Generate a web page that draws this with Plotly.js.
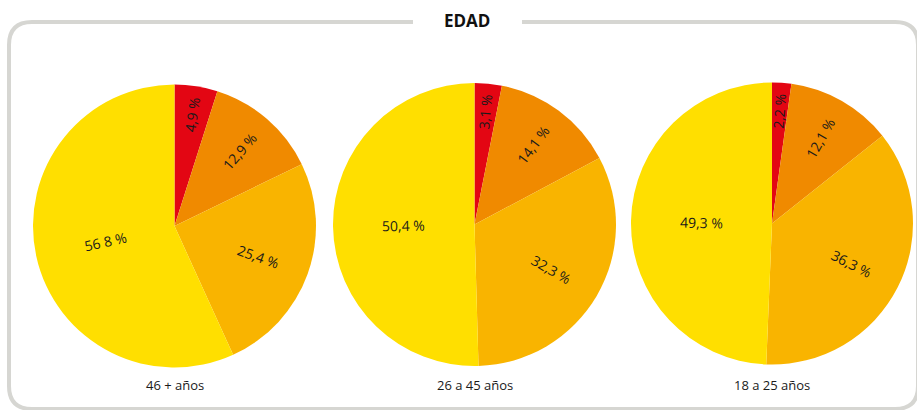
<!DOCTYPE html>
<html>
<head>
<meta charset="utf-8">
<script src="https://cdn.plot.ly/plotly-3.0.1.min.js"></script>
<style>
html,body{margin:0;padding:0;background:#fff;}
#chart{width:917px;height:410px;}
</style>
</head>
<body>
<div id="chart"></div>
<script>
// Data
var chartTitle = "EDAD";
var groups = ["46 + años", "26 a 45 años", "18 a 25 años"];
var segments = ["s1", "s2", "s3", "s4"];
var values46 = [4.9, 12.9, 25.4, 56.8];
var values26 = [3.1, 14.1, 32.3, 50.4];
var values18 = [2.2, 12.1, 36.3, 49.3];
var labels46 = ["4,9 %", "12,9 %", "25,4 %", "56 8 %"];
var labels26 = ["3,1 %", "14,1 %", "32,3 %", "50,4 %"];
var labels18 = ["2,2 %", "12,1 %", "36,3 %", "49,3 %"];

var colors = ["#E30613", "#F08A00", "#F9B400", "#FFDF00"];
var W = 917, H = 410;
var FONT = "Open Sans, Lato, sans-serif";

// pixel boxes for pies [x0,x1,y0,y1] (top-based)
var boxes = [[33, 316, 84.5, 367.5], [333, 616, 83, 366], [631, 913, 82.5, 364.5]];
var allValues = [values46, values26, values18];
var allLabels = [labels46, labels26, labels18];

var traces = allValues.map(function (vals, i) {
  var b = boxes[i];
  return {
    type: "pie",
    values: vals,
    labels: segments,
    textinfo: "none",
    sort: false,
    direction: "clockwise",
    rotation: 0,
    marker: {colors: colors, line: {width: 0}},
    showlegend: false,
    hoverinfo: "none",
    domain: {x: [b[0] / W, b[1] / W], y: [1 - b[3] / H, 1 - b[2] / H]}
  };
});

// radial label placement (style rule by slice size)
function labelRadius(share) {
  if (share > 0.45) return 0.5;
  if (share > 0.2) return 0.63;
  if (share > 0.08) return 0.7;
  return 0.8;
}

var annotations = [];
allValues.forEach(function (vals, i) {
  var b = boxes[i];
  var cx = (b[0] + b[1]) / 2, cy = (b[2] + b[3]) / 2, r = (b[1] - b[0]) / 2;
  var total = vals.reduce(function (a, v) { return a + v; }, 0);
  var cum = 0;
  vals.forEach(function (v, j) {
    var share = v / total;
    var mid = (cum + share / 2) * 360;
    cum += share;
    var rad = mid * Math.PI / 180;
    var f = labelRadius(share);
    var ang = mid - 90;
    if (ang > 90) ang -= 180;
    annotations.push({
      text: allLabels[i][j], xref: "x", yref: "y",
      x: cx + f * r * Math.sin(rad), y: cy - f * r * Math.cos(rad),
      textangle: ang, showarrow: false, xanchor: "center", yanchor: "middle",
      font: {family: FONT, size: 14, color: "#1a1a1a"}
    });
  });
  annotations.push({
    text: groups[i], xref: "x", yref: "y", x: cx, y: 385,
    showarrow: false, xanchor: "center", yanchor: "middle",
    font: {family: FONT, size: 13, color: "#1a1a1a"}
  });
});
annotations.push({
  text: "<b>" + chartTitle + "</b>", xref: "x", yref: "y", x: 467, y: 20,
  showarrow: false, xanchor: "center", yanchor: "middle",
  font: {family: FONT, size: 17, color: "#111"}
});

var framePath = "M 413,22 L 32,22 Q 9,22 9,45 L 9,386 Q 9,409 32,409 L 895,409 Q 918,409 918,386 L 918,45 Q 918,22 895,22 L 522,22";

var layout = {
  width: W, height: H,
  margin: {l: 0, r: 0, t: 0, b: 0},
  paper_bgcolor: "#fff", plot_bgcolor: "rgba(0,0,0,0)",
  xaxis: {range: [0, W], visible: false, fixedrange: true},
  yaxis: {range: [H, 0], visible: false, fixedrange: true},
  shapes: [{type: "path", xref: "x", yref: "y", path: framePath,
            line: {color: "#D6D6D2", width: 4}, layer: "below"}],
  annotations: annotations
};

Plotly.newPlot("chart", traces, layout, {displayModeBar: false, staticPlot: true});
</script>
</body>
</html>
